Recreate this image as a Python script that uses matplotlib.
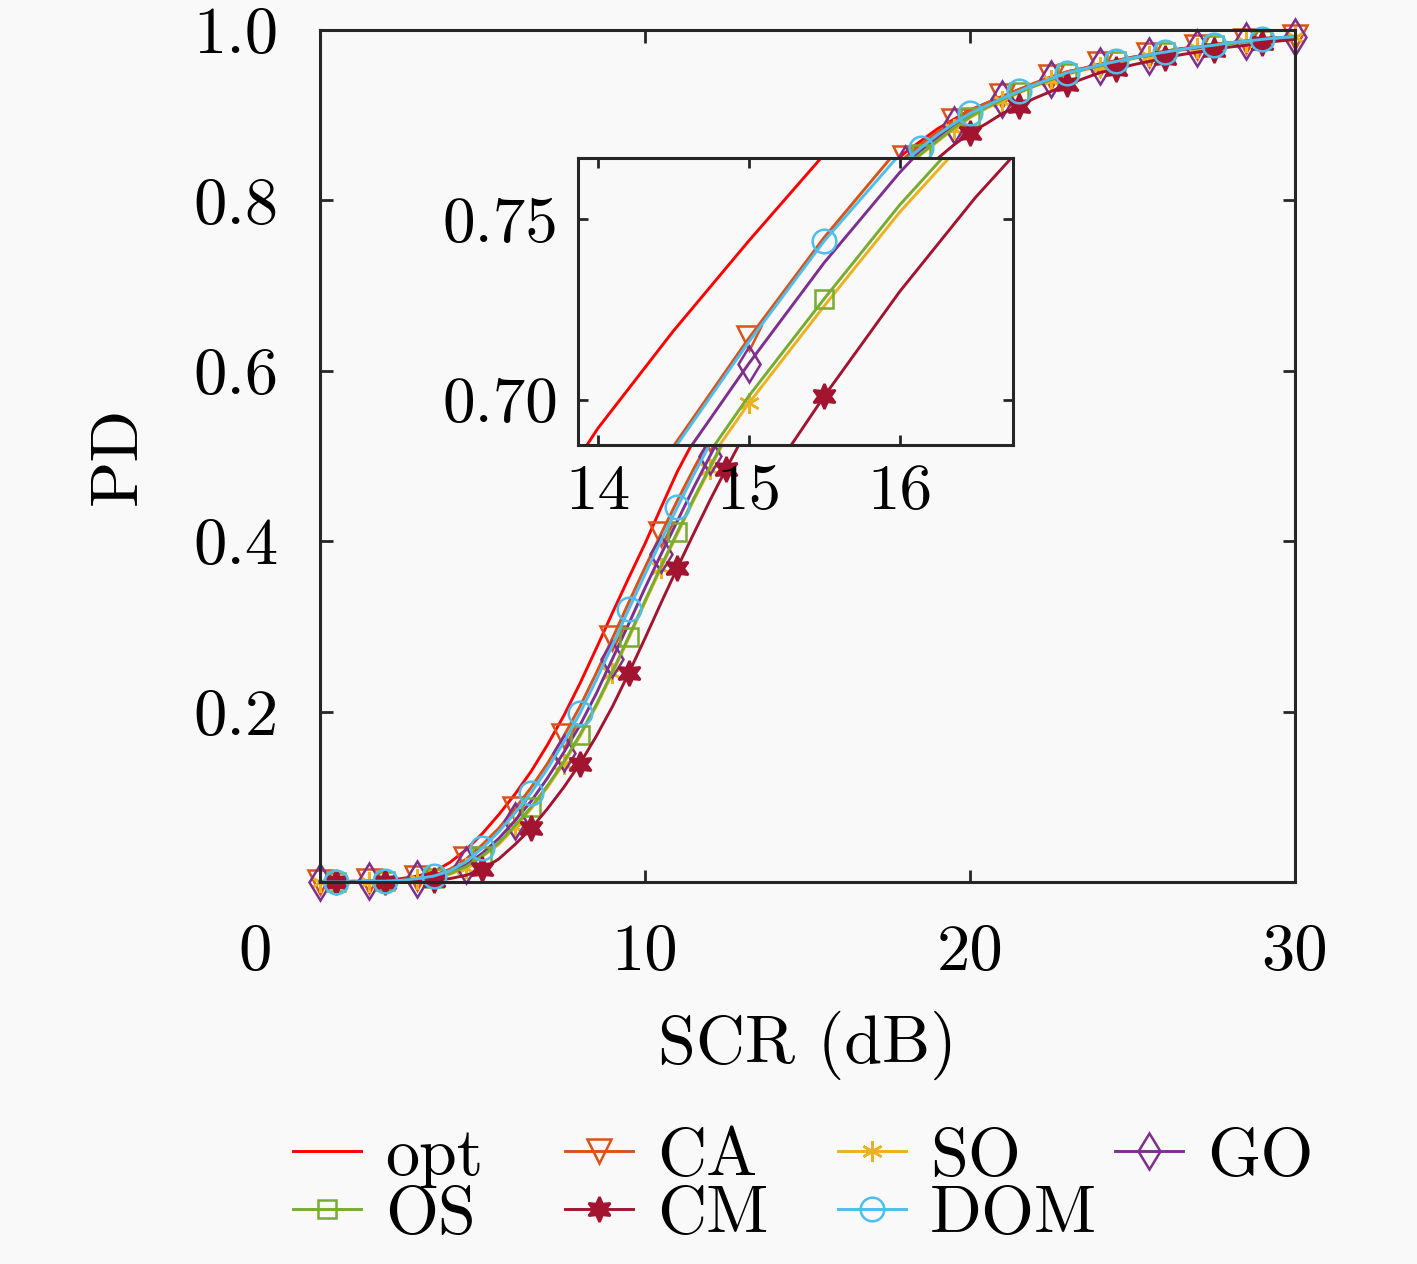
import numpy as np
import matplotlib.pyplot as plt
from matplotlib.transforms import ScaledTranslation

plt.rcParams['font.family'] = 'serif'
plt.rcParams['font.serif'] = ['cmr10']
plt.rcParams['mathtext.fontset'] = 'cm'
plt.rcParams['axes.formatter.use_mathtext'] = True

# SCR grid (dB)
scr = np.arange(0, 30.5, 0.5)

pd_opt = [0.000, 0.000, 0.001, 0.001, 0.002, 0.004, 0.007, 0.012, 0.023, 0.038,
          0.057, 0.079, 0.103, 0.130, 0.161, 0.195, 0.233, 0.274, 0.316, 0.357,
          0.397, 0.440, 0.482, 0.518, 0.553, 0.588, 0.623, 0.660, 0.692, 0.719,
          0.744, 0.768, 0.788, 0.806, 0.823, 0.839, 0.856, 0.870, 0.884, 0.895,
          0.906, 0.914, 0.922, 0.930, 0.937, 0.944, 0.951, 0.955, 0.960, 0.964,
          0.968, 0.971, 0.975, 0.978, 0.980, 0.983, 0.985, 0.987, 0.989, 0.991,
          0.992]
pd_ca = [0.000, 0.000, 0.000, 0.001, 0.001, 0.002, 0.005, 0.008, 0.015, 0.027,
         0.044, 0.063, 0.086, 0.111, 0.139, 0.171, 0.206, 0.245, 0.286, 0.328,
         0.369, 0.409, 0.448, 0.485, 0.520, 0.553, 0.586, 0.620, 0.654, 0.687,
         0.717, 0.745, 0.770, 0.793, 0.814, 0.833, 0.850, 0.866, 0.880, 0.893,
         0.905, 0.914, 0.922, 0.930, 0.938, 0.945, 0.951, 0.955, 0.960, 0.964,
         0.968, 0.971, 0.975, 0.978, 0.980, 0.983, 0.985, 0.987, 0.989, 0.991,
         0.992]
pd_so = [0.000, 0.000, 0.000, 0.000, 0.001, 0.001, 0.003, 0.005, 0.009, 0.017,
         0.030, 0.044, 0.064, 0.086, 0.111, 0.139, 0.171, 0.206, 0.245, 0.286,
         0.328, 0.369, 0.409, 0.448, 0.485, 0.522, 0.562, 0.599, 0.635, 0.669,
         0.699, 0.726, 0.752, 0.775, 0.796, 0.817, 0.836, 0.854, 0.869, 0.884,
         0.897, 0.908, 0.917, 0.926, 0.934, 0.941, 0.948, 0.953, 0.957, 0.962,
         0.966, 0.970, 0.973, 0.976, 0.979, 0.982, 0.984, 0.986, 0.988, 0.990,
         0.992]
pd_go = [0.000, 0.000, 0.000, 0.001, 0.001, 0.002, 0.003, 0.006, 0.011, 0.020,
         0.034, 0.051, 0.072, 0.095, 0.122, 0.152, 0.184, 0.221, 0.262, 0.303,
         0.345, 0.385, 0.424, 0.463, 0.500, 0.537, 0.576, 0.611, 0.646, 0.680,
         0.710, 0.738, 0.763, 0.785, 0.806, 0.825, 0.843, 0.859, 0.874, 0.888,
         0.901, 0.910, 0.919, 0.927, 0.935, 0.942, 0.949, 0.954, 0.958, 0.963,
         0.967, 0.970, 0.974, 0.977, 0.979, 0.982, 0.984, 0.987, 0.989, 0.990,
         0.992]
pd_os = [0.000, 0.000, 0.000, 0.000, 0.001, 0.001, 0.003, 0.005, 0.010, 0.018,
         0.031, 0.046, 0.066, 0.088, 0.113, 0.141, 0.173, 0.208, 0.247, 0.288,
         0.330, 0.371, 0.411, 0.450, 0.487, 0.524, 0.564, 0.601, 0.637, 0.671,
         0.701, 0.728, 0.754, 0.777, 0.798, 0.819, 0.838, 0.855, 0.870, 0.885,
         0.898, 0.909, 0.918, 0.927, 0.935, 0.942, 0.949, 0.954, 0.958, 0.963,
         0.967, 0.970, 0.974, 0.977, 0.980, 0.982, 0.984, 0.986, 0.988, 0.990,
         0.992]
pd_cm = [0.000, 0.000, 0.000, 0.000, 0.000, 0.001, 0.001, 0.002, 0.004, 0.008,
         0.015, 0.027, 0.044, 0.063, 0.086, 0.111, 0.139, 0.171, 0.206, 0.245,
         0.286, 0.328, 0.369, 0.409, 0.448, 0.485, 0.521, 0.556, 0.595, 0.634,
         0.670, 0.701, 0.730, 0.756, 0.779, 0.800, 0.818, 0.834, 0.849, 0.865,
         0.879, 0.890, 0.902, 0.911, 0.920, 0.928, 0.936, 0.943, 0.950, 0.954,
         0.959, 0.963, 0.967, 0.971, 0.974, 0.977, 0.980, 0.982, 0.985, 0.987,
         0.989]
pd_dom = [0.000, 0.000, 0.000, 0.001, 0.001, 0.002, 0.004, 0.007, 0.013, 0.024,
          0.040, 0.059, 0.081, 0.105, 0.133, 0.164, 0.198, 0.237, 0.278, 0.320,
          0.361, 0.401, 0.440, 0.478, 0.514, 0.549, 0.584, 0.619, 0.653, 0.686,
          0.716, 0.744, 0.768, 0.790, 0.810, 0.829, 0.846, 0.862, 0.877, 0.890,
          0.902, 0.911, 0.920, 0.928, 0.936, 0.943, 0.950, 0.954, 0.959, 0.963,
          0.967, 0.971, 0.974, 0.977, 0.980, 0.982, 0.985, 0.987, 0.989, 0.991,
          0.992]

# name, values, colour, marker, filled, size, markevery
series = [
    ('opt', pd_opt, '#FF0000', None, False, 0, None),
    ('CA', pd_ca, '#D95319', 'v', False, 17, (0, 3)),
    ('SO', pd_so, '#EDB120', (6, 2, 0), False, 15, (0, 3)),
    ('GO', pd_go, '#7E2F8E', 'd', False, 18, (0, 3)),
    ('OS', pd_os, '#77AC30', 's', False, 13, (1, 3)),
    ('CM', pd_cm, '#A2142F', (6, 1, 0), True, 18, (1, 3)),
    ('DOM', pd_dom, '#4DBEEE', 'o', False, 17, (1, 3)),
]

bg = '#f9f9f9'
ink = '#262626'

fig = plt.figure(figsize=(14.17, 12.64), dpi=100, facecolor=bg)
ax = fig.add_axes([0.2258, 0.3022, 0.6881, 0.6741], facecolor=bg)
axin = fig.add_axes([0.4079, 0.648, 0.3070, 0.227], facecolor=bg)

handles = {}
for a, clip in ((ax, False), (axin, True)):
    for name, vals, col, mk, filled, ms, every in series:
        ln, = a.plot(scr, vals, color=col, lw=2.1, marker=mk, markersize=ms,
                     markevery=every, markerfacecolor=col if filled else 'none',
                     markeredgewidth=1.8, clip_on=clip)
        if a is ax:
            handles[name] = ln

ax.set_xlim(0, 30)
ax.set_ylim(0, 1)
ax.set_xticks([0, 10, 20, 30])
ax.set_xticklabels(['0', '10', '20', '30'])
ax.set_yticks([0.2, 0.4, 0.6, 0.8, 1.0])
ax.set_yticklabels(['0.2', '0.4', '0.6', '0.8', '1.0'])
ax.tick_params(direction='in', length=9, width=2, labelsize=48, color=ink,
               top=True, right=True)
ax.tick_params(axis='x', pad=30)
ax.tick_params(axis='y', pad=30)
lbl0 = ax.get_xticklabels()[0]
lbl0.set_transform(lbl0.get_transform() + ScaledTranslation(-0.65, 0, fig.dpi_scale_trans))
ax.set_xlabel('SCR (dB)', fontsize=49, labelpad=20)
ax.set_ylabel('PD', fontsize=49, labelpad=32)

axin.set_xlim(13.87, 16.75)
axin.set_ylim(0.6875, 0.767)
axin.set_xticks([14, 15, 16])
axin.set_xticklabels(['14', '15', '16'])
axin.set_yticks([0.70, 0.75])
axin.set_yticklabels(['0.70', '0.75'])
axin.tick_params(direction='in', length=7, width=2, labelsize=47, color=ink,
                 top=True, right=True, pad=14)

for a in (ax, axin):
    for sp in a.spines.values():
        sp.set_linewidth(2.2)
        sp.set_color(ink)

# legend laid out in fixed-width columns
legend_cols = [['opt', 'OS'], ['CA', 'CM'], ['SO', 'DOM'], ['GO']]
col_left = [293, 565, 838, 1115]
for names, left in zip(legend_cols, col_left):
    leg = fig.legend([handles[n] for n in names], names, loc='upper left',
                     bbox_to_anchor=(left / 1417, 1 - 1127 / 1264), ncol=1,
                     frameon=False, fontsize=49, handlelength=1.0,
                     handletextpad=0.35, labelspacing=-0.05, borderpad=0,
                     borderaxespad=0)

fig.savefig('out.png', dpi=100, facecolor=bg)
